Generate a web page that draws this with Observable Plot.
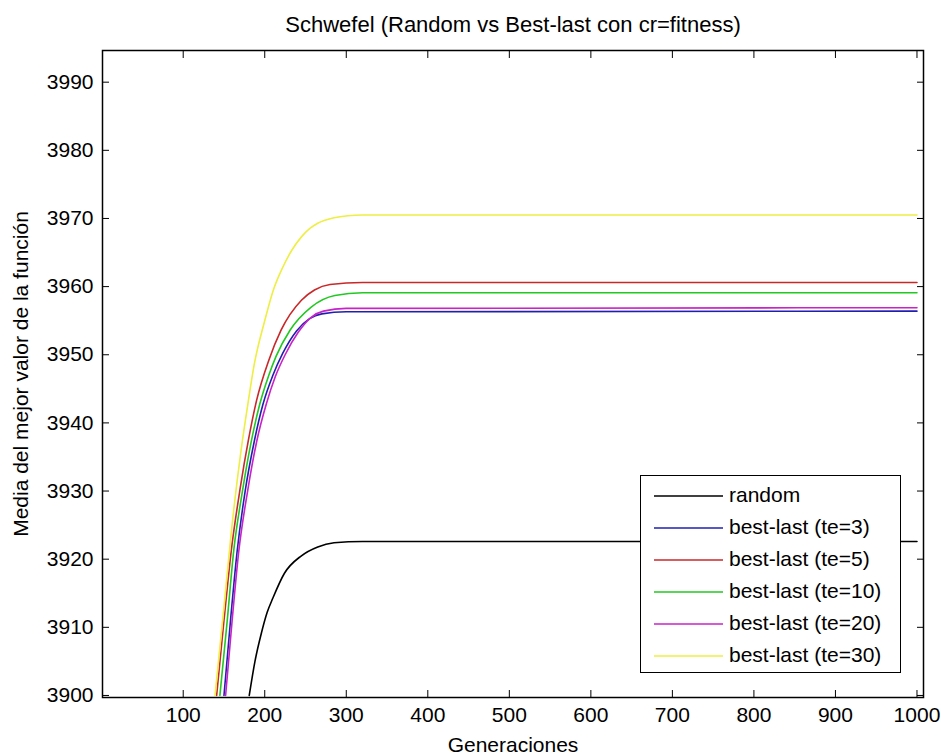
<!DOCTYPE html>
<html><head><meta charset="utf-8">
<script src="https://cdn.jsdelivr.net/npm/d3@7"></script>
<script src="https://cdn.jsdelivr.net/npm/@observablehq/plot@0.6"></script>
<style>
body{margin:0;background:#fff;font-family:"Liberation Sans",Arial,sans-serif;}
#wrap{position:relative;width:941px;height:755px;}
#legend{position:absolute;left:640px;top:475px;width:259px;height:196px;border:1px solid #000;background:#fff;font-size:21px;color:#000;}
.row{position:absolute;left:0;height:32px;width:259px;}
.row svg{position:absolute;left:13px;top:14px;}
.row .tx{position:absolute;left:88px;top:3px;white-space:nowrap;line-height:24px;}
</style></head>
<body><div id="wrap"><div id="chart"></div><div id="legend"></div></div>
<script>
const titleText = "Schwefel (Random vs Best-last con cr=fitness)";
const xLabel = "Generaciones";
const yLabel = "Media del mejor valor de la función";
const seriesNames = ["random","best-last (te=3)","best-last (te=5)","best-last (te=10)","best-last (te=20)","best-last (te=30)"];
const seriesColors = ["#000000","#2020b0","#c82828","#22c822","#c822c8","#eeee44"];
const xTicks = [100,200,300,400,500,600,700,800,900,1000];
const yTicks = [3900,3910,3920,3930,3940,3950,3960,3970,3980,3990];

const randomGen = [181,188,196,203,210,224,245,265,285,320,1000];
const randomVal = [3900,3905,3909.2,3912.2,3914.3,3917.9,3920.5,3921.8,3922.4,3922.6,3922.6];
const te3Gen = [150,158,166,176,187,198,210,222,239,255,270,300,1000];
const te3Val = [3900,3911,3921,3930,3937.2,3942.8,3947,3950.2,3953.5,3955.3,3956,3956.3,3956.4];
const te5Gen = [141,150,159,170,180,190,205,220,245,261,280,320,1000];
const te5Val = [3900,3911,3921.3,3930.5,3937.5,3943.3,3949.2,3953.6,3958,3959.5,3960.3,3960.6,3960.6];
const te10Gen = [145,154,162,172,183,194,205,214,231,257,286,320,1000];
const te10Val = [3900,3911,3921.3,3929.5,3937,3942.8,3947,3949.8,3953.6,3957,3958.7,3959.1,3959.1];
const te20Gen = [152,160,168,179,190,202,213,225,241,257,272,300,1000];
const te20Val = [3900,3911,3921,3930,3937.2,3942.8,3946.8,3950,3953.3,3955.5,3956.4,3956.8,3956.9];
const te30Gen = [139,150,159,171,180,187,200,210,222,233,245,255,265,285,302,320,1000];
const te30Val = [3900,3913,3924,3936,3943.3,3948.5,3955,3959.3,3962.8,3965.3,3967.3,3968.5,3969.3,3970.1,3970.4,3970.5,3970.5];

const gens = [randomGen, te3Gen, te5Gen, te10Gen, te20Gen, te30Gen];
const vals = [randomVal, te3Val, te5Val, te10Val, te20Val, te30Val];
const rows = [];
seriesNames.forEach((s, i) => gens[i].forEach((g, j) => rows.push({series: s, gen: g, val: vals[i][j]})));

const fs = 21;
const fmt = d3.format("d");
const plot = Plot.plot({
  width: 941, height: 755,
  marginLeft: 102, marginRight: 18, marginTop: 50, marginBottom: 58,
  style: {fontFamily: '"Liberation Sans", Arial, sans-serif', fontSize: fs + "px", background: "#fff", color: "#000"},
  x: {domain: [1, 1008]},
  y: {domain: [3899.7, 3994.65]},
  color: {domain: seriesNames, range: seriesColors},
  marks: [
    Plot.line(rows, {x: "gen", y: "val", z: "series", stroke: "series", strokeWidth: 1.6, curve: "monotone-x", clip: true}),
    Plot.frame({stroke: "#000", strokeWidth: 1.5}),
    Plot.axisX(xTicks, {anchor: "bottom", tickSize: 0, tickPadding: 10, tickFormat: fmt, label: null, fontSize: fs}),
    Plot.axisX(xTicks, {anchor: "bottom", tickSize: -7, tickFormat: () => "", label: null}),
    Plot.axisX(xTicks, {anchor: "top", tickSize: -7, tickFormat: () => "", label: null}),
    Plot.axisY(yTicks, {anchor: "left", tickSize: 0, tickPadding: 9, tickFormat: fmt, label: null, fontSize: fs}),
    Plot.axisY(yTicks, {anchor: "left", tickSize: -7, tickFormat: () => "", label: null}),
    Plot.axisY(yTicks, {anchor: "right", tickSize: -7, tickFormat: () => "", label: null}),
    Plot.text([titleText], {frameAnchor: "top", dy: -26, lineAnchor: "middle", fontSize: 22, text: d => d}),
    Plot.text([xLabel], {frameAnchor: "bottom", dy: 48, lineAnchor: "middle", fontSize: fs, text: d => d}),
    Plot.text([yLabel], {frameAnchor: "left", dx: -81, rotate: -90, textAnchor: "middle", lineAnchor: "middle", fontSize: fs, text: d => d})
  ]
});
document.getElementById("chart").appendChild(plot);

const legend = d3.select("#legend");
seriesNames.forEach((s, i) => {
  const r = legend.append("div").attr("class", "row").style("top", (4 + i * 32) + "px");
  r.append("svg").attr("width", 70).attr("height", 4)
    .append("line").attr("x1", 0).attr("x2", 69).attr("y1", 2).attr("y2", 2)
    .attr("stroke", seriesColors[i]).attr("stroke-width", 1.6);
  r.append("div").attr("class", "tx").text(s);
});
</script>
</body></html>
